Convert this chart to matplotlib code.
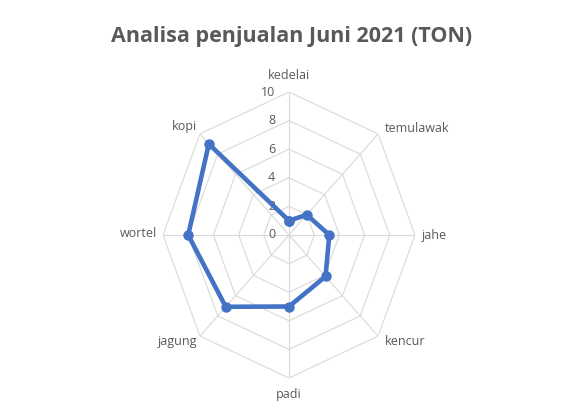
import numpy as np
import matplotlib
matplotlib.use("Agg")
import matplotlib.pyplot as plt

plt.rcParams['font.family'] = ['Open Sans', 'DejaVu Sans']

# data
categories = ['kedelai', 'temulawak', 'jahe', 'kencur', 'padi', 'jagung', 'wortel', 'kopi']
values = [1, 2, 3.2, 4.1, 5, 7.1, 8, 9]
rings = [2, 4, 6, 8, 10]
r_ticks = [0, 2, 4, 6, 8, 10]

text_color = '#595959'
grid_color = '#d9d9d9'
line_color = '#4472c4'

fig = plt.figure(figsize=(5.79, 4.12), dpi=100)
W, H = 579, 412
# image is stretched vertically, so polar axes without equal aspect
ax = fig.add_axes([163 / W, 34 / H, 252 / W, 286 / H], projection='polar')
ax.set_aspect('auto')
ax.set_theta_offset(np.pi / 2)
ax.set_theta_direction(-1)
ax.set_ylim(0, 10)
ax.grid(False)
ax.spines['polar'].set_visible(False)
ax.set_xticks([])
ax.set_yticks([])
ax.patch.set_visible(False)

n = len(categories)
theta = np.arange(n) * 2 * np.pi / n
theta_closed = np.append(theta, theta[0])

# octagon grid
for r in rings:
    ax.plot(theta_closed, [r] * (n + 1), color=grid_color, lw=0.8, zorder=1)
for t in theta:
    ax.plot([t, t], [0, 10], color=grid_color, lw=0.8, zorder=1)

# radial tick labels
for r in r_ticks:
    ax.annotate(str(r), xy=(0, r), xytext=(-10, 0), textcoords='offset points',
                ha='right', va='center', fontsize=9, color=text_color)

# category labels (offsets in points from the outer vertex)
label_pos = [((0, 12), 'center'), ((5, 4), 'left'), ((5, 0), 'left'), ((5, -4), 'left'),
             ((0, -12), 'center'), ((-2, -4), 'right'), ((-4, 1), 'right'), ((-2, 5), 'right')]
for t, name, (off, ha) in zip(theta, categories, label_pos):
    ax.annotate(name, xy=(t, 10), xytext=off, textcoords='offset points',
                ha=ha, va='center', fontsize=9, color=text_color, annotation_clip=False)

vals_closed = values + values[:1]
ax.plot(theta_closed, vals_closed, color=line_color, lw=3.3, marker='o',
        markersize=6.5, zorder=3, clip_on=False)

fig.text(292 / W, 1 - 41.7 / H, 'Analisa penjualan Juni 2021 (TON)', ha='center',
         va='baseline', fontsize=15.5, fontweight='bold', color=text_color)

fig.savefig('out.png', dpi=100)
